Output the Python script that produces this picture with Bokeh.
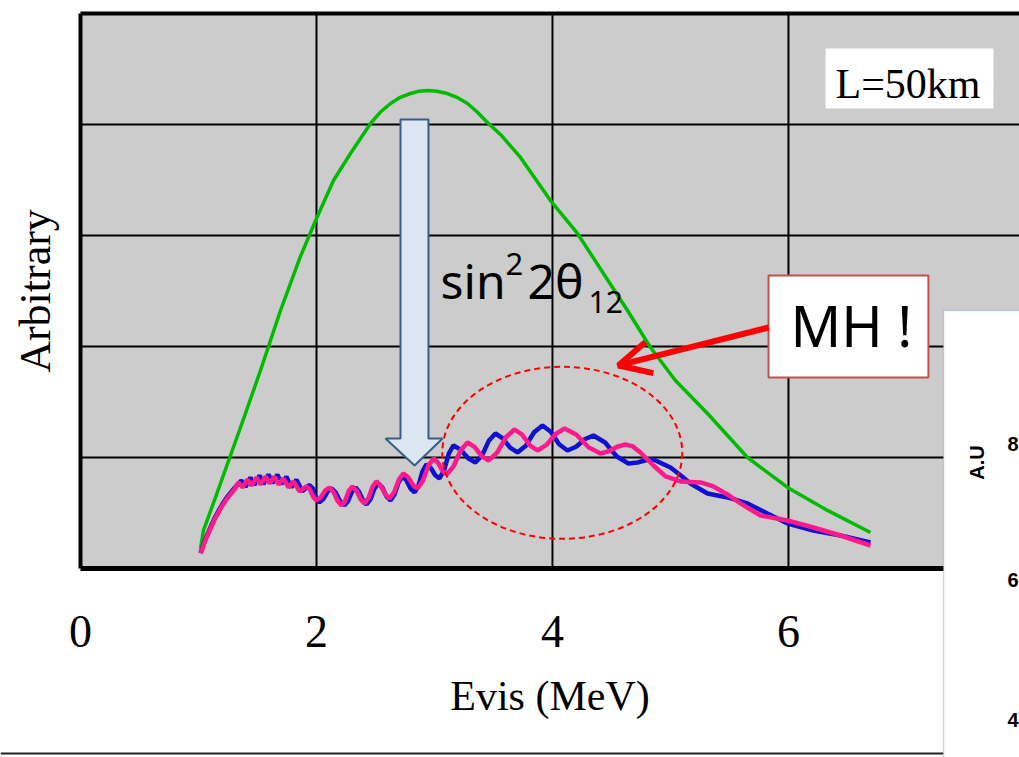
from bokeh.plotting import figure
from bokeh.models import (FixedTicker, Label, Arrow, OpenHead, BoxAnnotation,
                          LinearAxis, Range1d)
from bokeh.core.properties import value
from bokeh.embed import file_html
from bokeh.resources import INLINE

# ---------------- data ----------------
x_ticks = [0, 2, 4, 6]
x_tick_labels = {0: "0", 2: "2", 4: "4", 6: "6"}
x_grid = [2, 4, 6]
y_grid = [1, 2, 3, 4]
y_top = 5.0
x_right = 7.958

# no-oscillation spectrum (green)
green_e = [1.017, 1.042, 1.144, 1.271, 1.398, 1.525, 1.695, 1.864, 2.0, 2.144,
           2.288, 2.458, 2.54, 2.627, 2.71, 2.797, 2.87, 2.941, 3.02, 3.110,
           3.19, 3.280, 3.36, 3.449, 3.559, 3.729, 3.983, 4.212, 4.432, 4.636,
           4.831, 5.042, 5.314, 5.653, 5.992, 6.331, 6.695]
green_v = [0.18, 0.342, 0.640, 1.018, 1.396, 1.784, 2.324, 2.811, 3.153, 3.495,
           3.739, 4.009, 4.11, 4.189, 4.245, 4.279, 4.300, 4.306, 4.300, 4.279,
           4.245, 4.189, 4.115, 4.018, 3.910, 3.703, 3.315, 3.018, 2.658, 2.324,
           1.991, 1.694, 1.396, 1.0, 0.730, 0.523, 0.324]

# oscillated spectrum, blue curve
blue_e = [1.017, 1.042, 1.068, 1.102, 1.136, 1.169, 1.203, 1.237, 1.271, 1.305,
          1.364, 1.398, 1.44, 1.474, 1.517, 1.55, 1.593, 1.627, 1.669, 1.703,
          1.745, 1.788, 1.83, 1.88, 1.94, 1.97, 1.997, 2.025, 2.059, 2.093,
          2.127, 2.164, 2.2, 2.237, 2.268, 2.3, 2.331, 2.362, 2.393, 2.424,
          2.458, 2.491, 2.525, 2.559, 2.593, 2.627, 2.661, 2.695, 2.729, 2.763,
          2.797, 2.831, 2.865, 2.898, 2.932, 2.969, 3.005, 3.042, 3.082, 3.121,
          3.161, 3.223, 3.285, 3.347, 3.404, 3.46, 3.517, 3.579, 3.641, 3.703,
          3.774, 3.844, 3.915, 3.986, 4.056, 4.127, 4.2, 4.274, 4.347, 4.446,
          4.545, 4.644, 4.72, 4.79, 4.856, 5.0, 5.085, 5.169, 5.314, 5.483,
          5.653, 5.822, 5.992, 6.212, 6.441, 6.695]
blue_v = [0.14, 0.215, 0.29, 0.372, 0.452, 0.517, 0.58, 0.635, 0.68, 0.725,
          0.793, 0.735, 0.82, 0.752, 0.838, 0.76, 0.847, 0.77, 0.845, 0.76,
          0.827, 0.732, 0.80, 0.695, 0.752, 0.72, 0.63, 0.595, 0.627, 0.69,
          0.721, 0.683, 0.606, 0.568, 0.608, 0.69, 0.730, 0.69, 0.615, 0.577,
          0.624, 0.72, 0.766, 0.728, 0.65, 0.613, 0.667, 0.775, 0.829, 0.793,
          0.72, 0.685, 0.748, 0.874, 0.937, 0.905, 0.842, 0.811, 0.885, 1.034,
          1.108, 1.07, 0.993, 0.955, 1.02, 1.15, 1.216, 1.173, 1.088, 1.045,
          1.106, 1.227, 1.288, 1.232, 1.119, 1.063, 1.097, 1.164, 1.198, 1.135,
          1.009, 0.946, 0.955, 0.975, 0.982, 0.910, 0.84, 0.766, 0.676, 0.640,
          0.586, 0.495, 0.405, 0.342, 0.297, 0.234]

# oscillated spectrum, pink curve
pink_e = [1.017, 1.042, 1.068, 1.102, 1.136, 1.169, 1.203, 1.237, 1.271, 1.305,
          1.339, 1.373, 1.415, 1.449, 1.492, 1.525, 1.568, 1.602, 1.644, 1.678,
          1.720, 1.763, 1.805, 1.856, 1.915, 1.945, 1.972, 2.000, 2.037, 2.073,
          2.110, 2.144, 2.178, 2.212, 2.243, 2.274, 2.305, 2.339, 2.373, 2.407,
          2.441, 2.474, 2.508, 2.545, 2.582, 2.619, 2.658, 2.698, 2.737, 2.777,
          2.816, 2.856, 2.901, 2.947, 2.992, 3.029, 3.065, 3.102, 3.161, 3.221,
          3.280, 3.339, 3.399, 3.458, 3.531, 3.605, 3.678, 3.743, 3.808, 3.873,
          3.949, 4.026, 4.102, 4.204, 4.305, 4.407, 4.478, 4.548, 4.619, 4.680,
          4.746, 4.856, 4.958, 5.085, 5.254, 5.364, 5.483, 5.593, 5.763, 5.992,
          6.212, 6.441, 6.695]
pink_v = [0.135, 0.207, 0.279, 0.360, 0.441, 0.505, 0.568, 0.622, 0.667, 0.712,
          0.775, 0.730, 0.802, 0.748, 0.820, 0.757, 0.829, 0.766, 0.829, 0.757,
          0.811, 0.730, 0.784, 0.694, 0.739, 0.71, 0.645, 0.613, 0.642, 0.701,
          0.730, 0.69, 0.61, 0.568, 0.61, 0.70, 0.739, 0.70, 0.625, 0.586,
          0.635, 0.735, 0.784, 0.745, 0.67, 0.631, 0.687, 0.80, 0.856, 0.822,
          0.755, 0.721, 0.789, 0.924, 0.991, 0.955, 0.883, 0.847, 0.919, 1.063,
          1.135, 1.095, 1.013, 0.973, 1.043, 1.182, 1.252, 1.205, 1.110, 1.063,
          1.113, 1.211, 1.261, 1.205, 1.092, 1.036, 1.056, 1.097, 1.117, 1.100,
          1.045, 0.928, 0.829, 0.784, 0.775, 0.739, 0.667, 0.586, 0.477, 0.432,
          0.369, 0.297, 0.207]

# annotation geometry (data units)
arrow_poly_x = [2.712, 2.949, 2.949, 3.068, 2.831, 2.585, 2.712]
arrow_poly_y = [4.045, 4.045, 1.171, 1.171, 0.928, 1.171, 1.171]
ellipse_xy = (4.083, 1.042)
ellipse_wh = (2.034, 1.55)

SERIF = "Liberation Serif"
SANS = "Noto Sans"

# frame covers the whole page; the plot box is the region 0..x_right, 0..5
p = figure(width=1019, height=757, output_backend="svg", toolbar_location=None,
           x_range=Range1d(-0.678, 7.958), y_range=Range1d(-1.703, 5.117),
           x_axis_location=None, y_axis_location=None,
           min_border_left=0, min_border_right=0, min_border_top=0,
           min_border_bottom=0)
p.background_fill_color = "white"
p.border_fill_color = "white"
p.outline_line_color = None
p.grid.visible = False

# grey plot area, then grid lines limited to the plot box
p.quad(left=[0], right=[x_right], bottom=[0], top=[y_top],
       fill_color="#CCCCCC", line_color=None)
p.segment(x0=x_grid, y0=[0] * len(x_grid), x1=x_grid, y1=[y_top] * len(x_grid),
          line_color="black", line_width=2)
p.segment(x0=[0] * len(y_grid), y0=y_grid, x1=[x_right] * len(y_grid), y1=y_grid,
          line_color="black", line_width=2)

# x axis at y = 0
xa = LinearAxis(fixed_location=0, bounds=(0, x_right),
                ticker=FixedTicker(ticks=x_ticks),
                major_label_overrides=x_tick_labels,
                major_label_text_font=SERIF, major_label_text_font_size="46px",
                major_label_text_color="black", major_label_standoff=48,
                major_tick_out=0, major_tick_in=0, minor_tick_out=0, minor_tick_in=0,
                axis_line_width=5, axis_line_color="black",
                axis_label="Evis (MeV)", axis_label_text_font=SERIF,
                axis_label_text_font_style="normal", axis_label_text_font_size="42px",
                axis_label_text_color="black", axis_label_standoff=22)
p.add_layout(xa, "below")

# y axis at x = 0 (no ticks)
ya = LinearAxis(fixed_location=0, bounds=(0, y_top), ticker=FixedTicker(ticks=[]),
                major_label_text_font_size="0px",
                major_tick_out=0, major_tick_in=0, minor_tick_out=0, minor_tick_in=0,
                axis_line_width=4, axis_line_color="black",
                axis_label="Arbitrary", axis_label_text_font=SERIF,
                axis_label_text_font_style="normal", axis_label_text_font_size="44px",
                axis_label_text_color="black", axis_label_standoff=21)
p.add_layout(ya, "left")

# top border of the plot box
p.line([0, x_right], [y_top, y_top], line_color="black", line_width=4)

# curves
p.line(green_e, green_v, line_color="#00BB00", line_width=3.5)
p.line(blue_e, blue_v, line_color="#1010D0", line_width=4.5)
p.line(pink_e, pink_v, line_color="#FF1A8C", line_width=4.5)

# sin^2 2theta12 block arrow
p.patch(arrow_poly_x, arrow_poly_y, fill_color="#DCE6F2", line_color="#385D8A",
        line_width=2)

# dashed ellipse
p.ellipse(x=[ellipse_xy[0]], y=[ellipse_xy[1]], width=[ellipse_wh[0]],
          height=[ellipse_wh[1]], fill_alpha=0, line_color="#FF0000",
          line_width=2, line_dash="6 4")

# L=50km box
p.quad(left=[6.314], right=[7.737], bottom=[4.144], top=[4.685],
       fill_color="white", line_color=None)
p.text(x=[7.013], y=[4.369], text=["L=50km"], text_font=value(SERIF),
       text_font_size=value("42px"), text_align="center",
       text_baseline="alphabetic", text_color="black")

# MH ! box
p.quad(left=[5.831], right=[7.186], bottom=[1.721], top=[2.640],
       fill_color="white", line_color="#C0504D", line_width=2)
p.text(x=[6.534], y=[2.198], text=["MH !"], text_font=value(SANS),
       text_font_size=value("56px"), text_align="center",
       text_baseline="alphabetic", text_color="black")

# sin^2 2 theta_12 label
p.text(x=[3.051], y=[2.594], text=["sin"], text_font=value(SANS),
       text_font_size=value("48px"), text_align="left", text_baseline="alphabetic",
       text_color="black")
p.text(x=[3.602], y=[2.745], text=["2"], text_font=value(SANS),
       text_font_size=value("31px"), text_align="left", text_baseline="alphabetic",
       text_color="black")
p.text(x=[3.788], y=[2.594], text=["2\u03b8"], text_font=value(SANS),
       text_font_size=value("48px"), text_align="left", text_baseline="alphabetic",
       text_color="black")
p.text(x=[4.305], y=[2.402], text=["12"], text_font=value(SANS),
       text_font_size=value("30px"), text_align="left", text_baseline="alphabetic",
       text_color="black")

# red arrow toward the MH region
p.add_layout(Arrow(end=OpenHead(size=32, line_color="#FF0000", line_width=6),
                   x_start=5.831, y_start=2.171, x_end=4.559, y_end=1.829,
                   line_color="#FF0000", line_width=6))

# bottom rule of the slide
p.line([-0.678, 7.314], [-1.667, -1.667], line_color="#222222", line_width=2)

# inset panel at the right (partially visible)
p.add_layout(BoxAnnotation(left=7.314, right=8.3, bottom=-2.2, top=2.324,
                           fill_color="white", fill_alpha=1.0,
                           line_color="#4F81BD", line_width=1.5, level="overlay"))
p.add_layout(Label(x=7.602, y=0.955, text="A.U", angle=1.5708,
                   text_font="Liberation Sans", text_font_style="bold",
                   text_font_size="20px", text_align="center",
                   text_baseline="middle", text_color="black", level="overlay"))
for lab, yy in (("8", 1.117), ("6", -0.108), ("4", -1.369)):
    p.add_layout(Label(x=7.856, y=yy, text=lab, text_font="Liberation Sans",
                       text_font_style="bold", text_font_size="20px",
                       text_align="left", text_baseline="middle",
                       text_color="black", level="overlay"))

open("out.html", "w").write(file_html(p, INLINE))
